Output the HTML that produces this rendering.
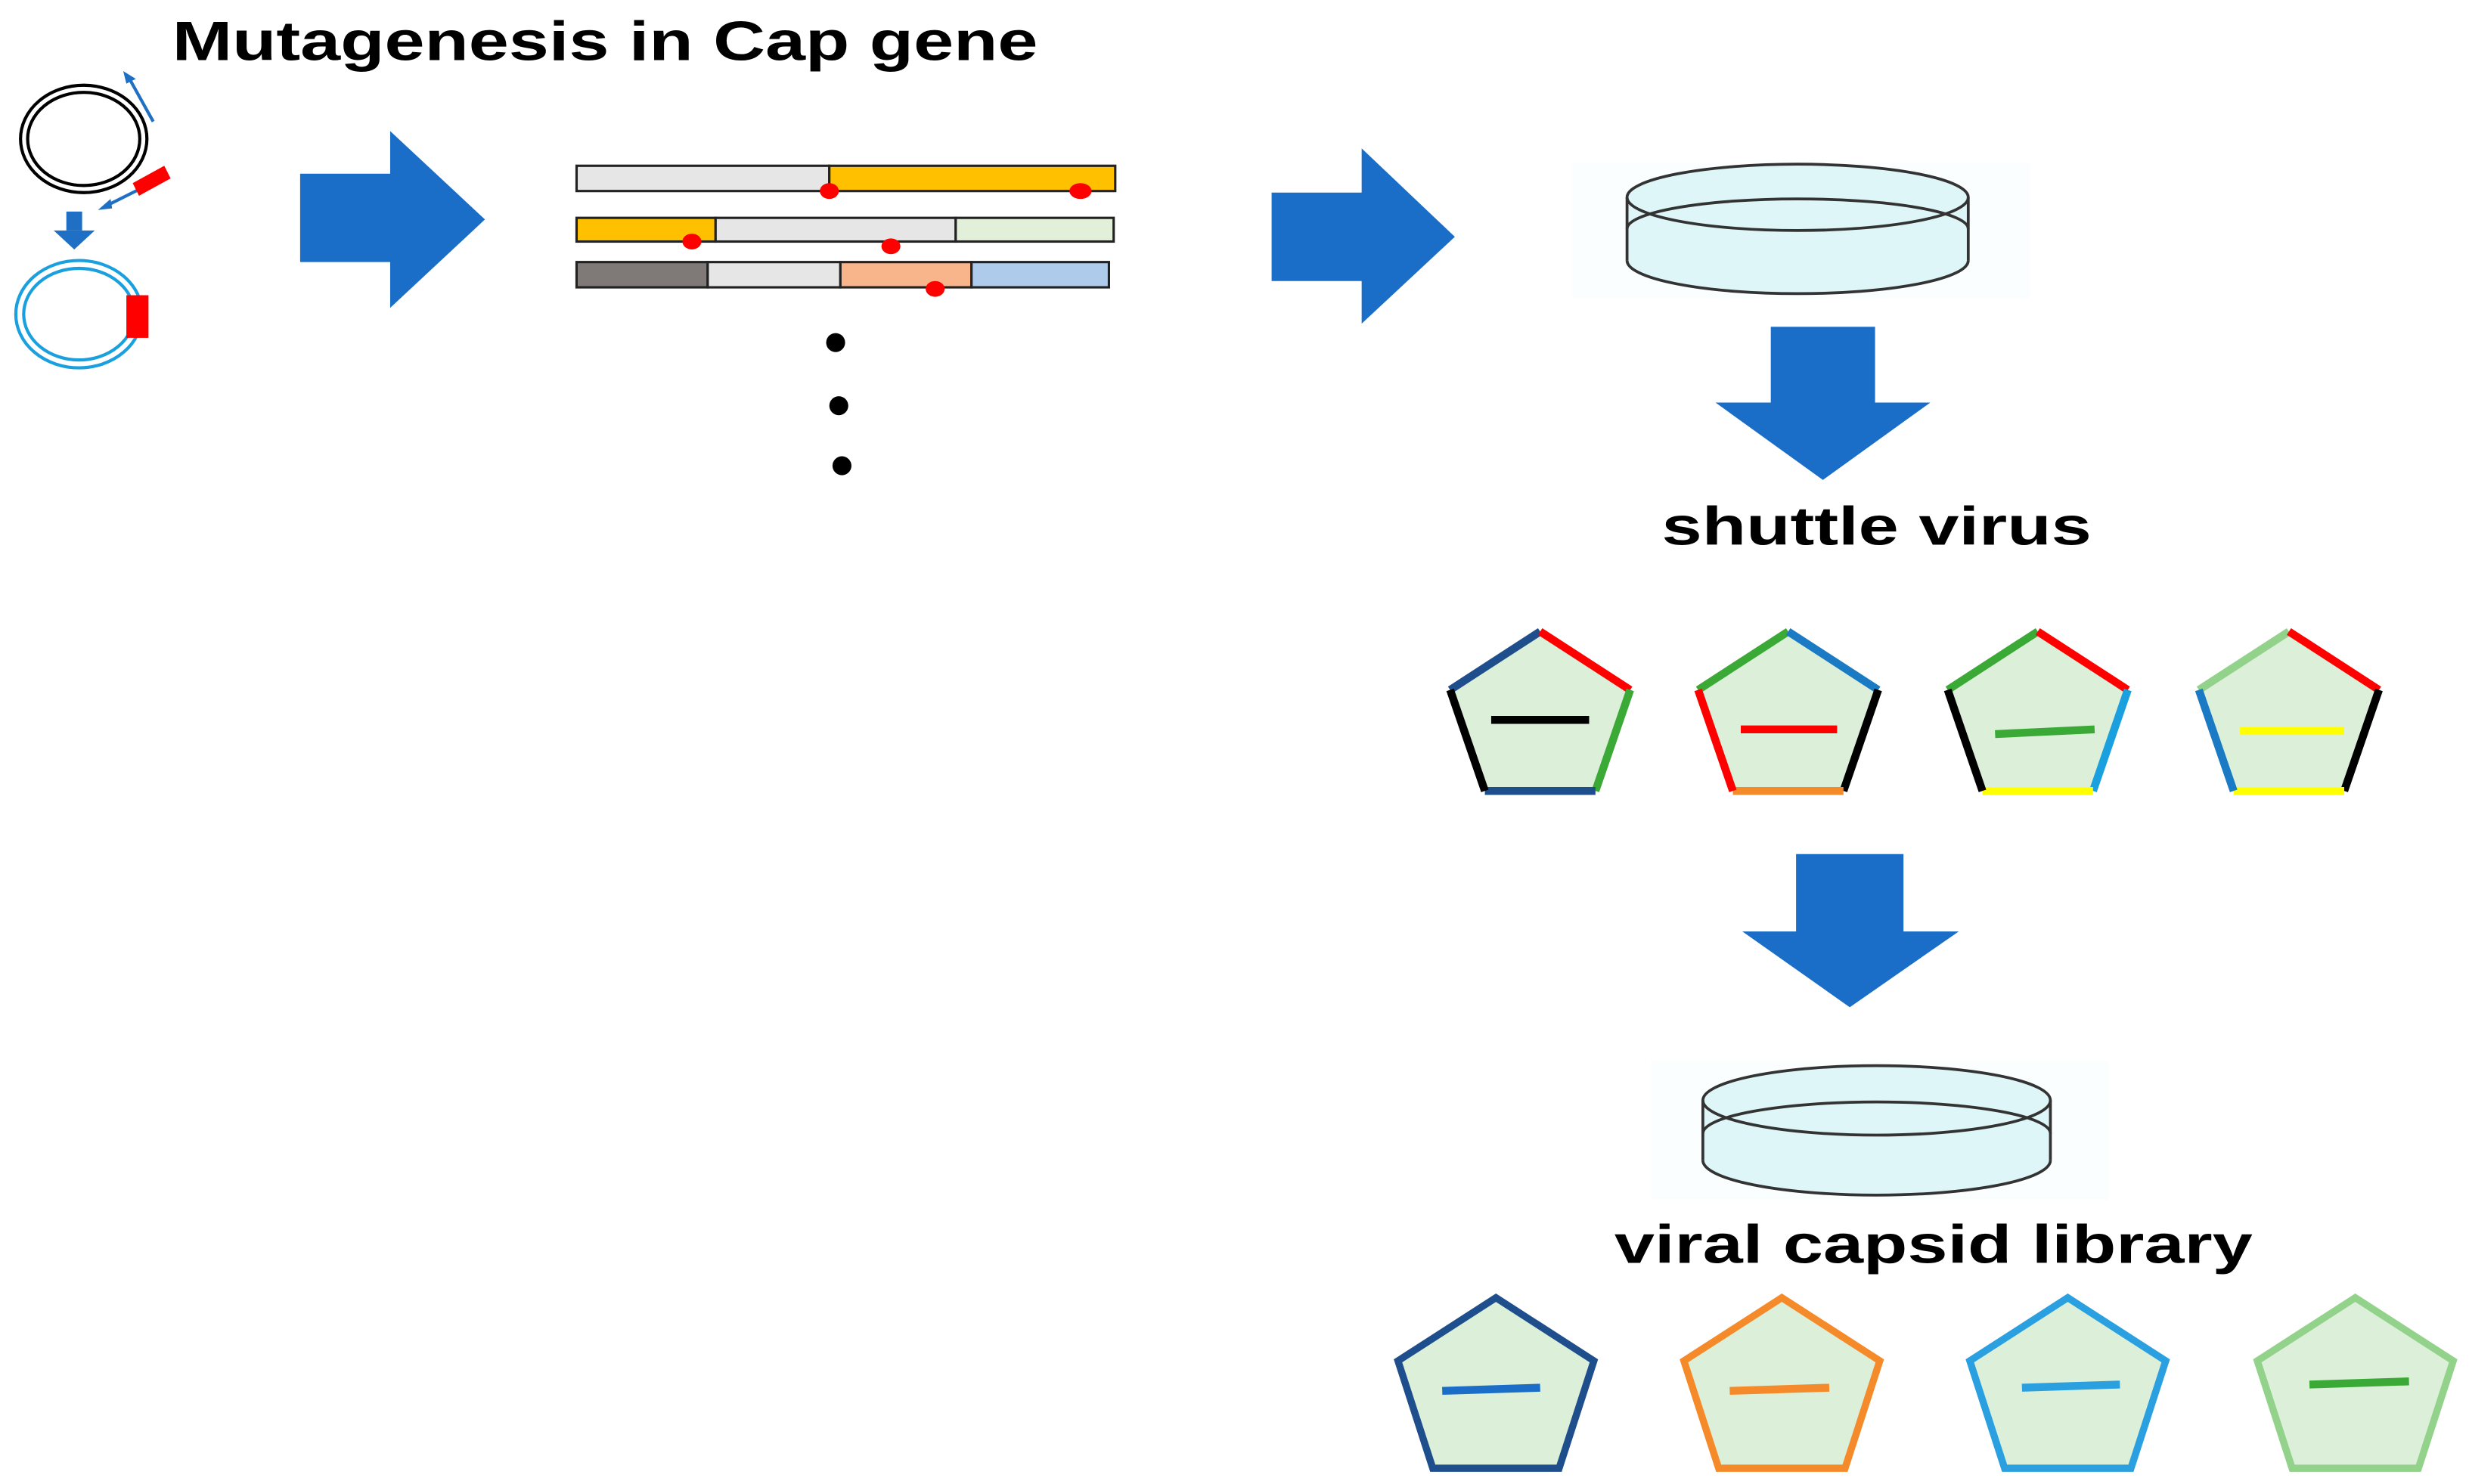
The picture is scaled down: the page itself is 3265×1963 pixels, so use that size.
<!DOCTYPE html>
<html><head><meta charset="utf-8"><style>
html,body{margin:0;padding:0;background:#fff;}
svg{display:block;}
text{font-family:"Liberation Sans",Arial,sans-serif;font-weight:bold;fill:#000;}
</style></head><body>
<svg width="3265" height="1963" viewBox="0 0 1563 940" preserveAspectRatio="none" xmlns="http://www.w3.org/2000/svg">
<rect width="1563" height="940" fill="#fff"/>
<text x="383" y="38" font-size="35" text-anchor="middle" textLength="548" lengthAdjust="spacingAndGlyphs">Mutagenesis in Cap gene</text>

<ellipse cx="53" cy="88" rx="40" ry="34" fill="none" stroke="#000" stroke-width="2"/>
<ellipse cx="53" cy="88" rx="35.5" ry="29.5" fill="none" stroke="#000" stroke-width="2"/>
<line x1="97" y1="77" x2="82" y2="50" stroke="#1f6fc4" stroke-width="2"/>
<polygon points="78,45 86,50 80,53" fill="#1f6fc4"/>
<line x1="88" y1="120" x2="68" y2="130" stroke="#1f6fc4" stroke-width="2"/>
<polygon points="62,133 70,126 71,132" fill="#1f6fc4"/>
<polygon points="84,116 104,105 108,113 88,124" fill="#ff0000"/>
<rect x="42" y="134" width="10" height="12" fill="#1f6fc4"/>
<polygon points="34,146 60,146 47,158" fill="#1f6fc4"/>
<ellipse cx="50" cy="199" rx="40" ry="34" fill="none" stroke="#1aa0de" stroke-width="2"/>
<ellipse cx="50" cy="199" rx="35" ry="29" fill="none" stroke="#1aa0de" stroke-width="2"/>
<rect x="80" y="187" width="14" height="27" fill="#ff0000"/>

<polygon points="190,110 247,110 247,83 307,139 247,195 247,166 190,166" fill="#1a6ec8"/>
<polygon points="805,122 862,122 862,94 921,150 862,205 862,178 805,178" fill="#1a6ec8"/>

<g stroke="#222" stroke-width="1.5">
<rect x="365" y="105" width="160" height="16" fill="#e6e6e6"/>
<rect x="525" y="105" width="181" height="16" fill="#ffc000"/>
<rect x="365" y="138" width="88" height="15" fill="#ffc000"/>
<rect x="453" y="138" width="152" height="15" fill="#e6e6e6"/>
<rect x="605" y="138" width="100" height="15" fill="#e2f0d9"/>
<rect x="365" y="166" width="83" height="16" fill="#7f7a78"/>
<rect x="448" y="166" width="84" height="16" fill="#e6e6e6"/>
<rect x="532" y="166" width="83" height="16" fill="#f8b48a"/>
<rect x="615" y="166" width="87" height="16" fill="#aecbec"/>
</g>
<g fill="#ff0000">
<ellipse cx="525" cy="121" rx="6" ry="5"/><ellipse cx="684" cy="121" rx="7" ry="5"/>
<ellipse cx="438" cy="153" rx="6" ry="5"/><ellipse cx="564" cy="156" rx="6" ry="5"/>
<ellipse cx="592" cy="183" rx="6" ry="5"/>
</g>
<g fill="#000">
<ellipse cx="529" cy="217" rx="6" ry="6"/><ellipse cx="531" cy="257" rx="6" ry="6"/><ellipse cx="533" cy="295" rx="6" ry="6"/>
</g>

<rect x="995" y="103" width="290" height="86" fill="#fbfefe"/>
<path d="M1030,125 L1030,165 A108,21 0 0 0 1246,165 L1246,125 Z" fill="#dff6f9"/>
<ellipse cx="1138" cy="125" rx="108" ry="21" fill="#dff6f9" stroke="#333" stroke-width="1.8"/>
<path d="M1030,165 A108,21 0 0 0 1246,165" fill="none" stroke="#333" stroke-width="1.8"/>
<path d="M1030,145 A108,19 0 0 1 1246,145" fill="none" stroke="#333" stroke-width="1.8"/>
<line x1="1030" y1="125" x2="1030" y2="165" stroke="#333" stroke-width="1.8"/>
<line x1="1246" y1="125" x2="1246" y2="165" stroke="#333" stroke-width="1.8"/>

<polygon points="1121,207 1187,207 1187,255 1222,255 1154,304 1086,255 1121,255" fill="#1a6ec8"/>
<text x="1188" y="345" font-size="34" text-anchor="middle" textLength="272" lengthAdjust="spacingAndGlyphs">shuttle virus</text>

<g stroke-width="5" stroke-linecap="butt">
<polygon points="975,400 1032,437 1010,501 940,501 918,437" fill="#dcefd9" stroke="none"/>
<line x1="975" y1="400" x2="918" y2="437" stroke="#1f4e8c"/>
<line x1="975" y1="400" x2="1032" y2="437" stroke="#ff0000"/>
<line x1="1032" y1="437" x2="1010" y2="501" stroke="#3aa935"/>
<line x1="1010" y1="501" x2="940" y2="501" stroke="#1f4e8c"/>
<line x1="940" y1="501" x2="918" y2="437" stroke="#000"/>
<line x1="944" y1="456" x2="1006" y2="456" stroke="#000" stroke-width="5"/>

<polygon points="1132,400 1189,437 1167,501 1097,501 1075,437" fill="#dcefd9" stroke="none"/>
<line x1="1132" y1="400" x2="1075" y2="437" stroke="#3aa935"/>
<line x1="1132" y1="400" x2="1189" y2="437" stroke="#1a7bc4"/>
<line x1="1189" y1="437" x2="1167" y2="501" stroke="#000"/>
<line x1="1167" y1="501" x2="1097" y2="501" stroke="#f58a2a"/>
<line x1="1097" y1="501" x2="1075" y2="437" stroke="#ff0000"/>
<line x1="1102" y1="462" x2="1163" y2="462" stroke="#ff0000" stroke-width="5"/>

<polygon points="1290,400 1347,437 1325,501 1255,501 1233,437" fill="#dcefd9" stroke="none"/>
<line x1="1290" y1="400" x2="1233" y2="437" stroke="#3aa935"/>
<line x1="1290" y1="400" x2="1347" y2="437" stroke="#ff0000"/>
<line x1="1347" y1="437" x2="1325" y2="501" stroke="#1aa0de"/>
<line x1="1325" y1="501" x2="1255" y2="501" stroke="#ffff00"/>
<line x1="1255" y1="501" x2="1233" y2="437" stroke="#000"/>
<line x1="1263" y1="465" x2="1326" y2="462" stroke="#3aa935" stroke-width="5"/>

<polygon points="1449,400 1506,437 1484,501 1414,501 1392,437" fill="#dcefd9" stroke="none"/>
<line x1="1449" y1="400" x2="1392" y2="437" stroke="#92d28a"/>
<line x1="1449" y1="400" x2="1506" y2="437" stroke="#ff0000"/>
<line x1="1506" y1="437" x2="1484" y2="501" stroke="#000"/>
<line x1="1484" y1="501" x2="1414" y2="501" stroke="#ffff00"/>
<line x1="1414" y1="501" x2="1392" y2="437" stroke="#1a7bc4"/>
<line x1="1418" y1="463" x2="1484" y2="463" stroke="#ffff00" stroke-width="5"/>
</g>

<polygon points="1137,541 1205,541 1205,590 1240,590 1171,638 1103,590 1137,590" fill="#1a6ec8"/>

<rect x="1045" y="672" width="290" height="88" fill="#fbfefe"/>
<path d="M1078,697 L1078,735 A110,22 0 0 0 1298,735 L1298,697 Z" fill="#dff6f9"/>
<ellipse cx="1188" cy="697" rx="110" ry="22" fill="#dff6f9" stroke="#333" stroke-width="1.8"/>
<path d="M1078,735 A110,22 0 0 0 1298,735" fill="none" stroke="#333" stroke-width="1.8"/>
<path d="M1078,718 A110,20 0 0 1 1298,718" fill="none" stroke="#333" stroke-width="1.8"/>
<line x1="1078" y1="697" x2="1078" y2="735" stroke="#333" stroke-width="1.8"/>
<line x1="1298" y1="697" x2="1298" y2="735" stroke="#333" stroke-width="1.8"/>

<text x="1224" y="800" font-size="34" text-anchor="middle" textLength="404" lengthAdjust="spacingAndGlyphs">viral capsid library</text>

<g stroke-width="4.5" fill="#dcefd9">
<polygon points="947,822 1009,862 987,930 907,930 885,862" stroke="#1f4e8c"/>
<polygon points="1128,822 1190,862 1168,930 1088,930 1066,862" stroke="#f58a2a"/>
<polygon points="1309,822 1371,862 1349,930 1269,930 1247,862" stroke="#2aa0e0"/>
<polygon points="1491,822 1553,862 1531,930 1451,930 1429,862" stroke="#92d28a"/>
</g>
<g stroke-width="5">
<line x1="913" y1="881" x2="975" y2="879" stroke="#1a6ec8"/>
<line x1="1095" y1="881" x2="1158" y2="879" stroke="#f58a2a"/>
<line x1="1280" y1="879" x2="1342" y2="877" stroke="#2aa0e0"/>
<line x1="1462" y1="877" x2="1525" y2="875" stroke="#3aa935"/>
</g>
</svg>
</body></html>
